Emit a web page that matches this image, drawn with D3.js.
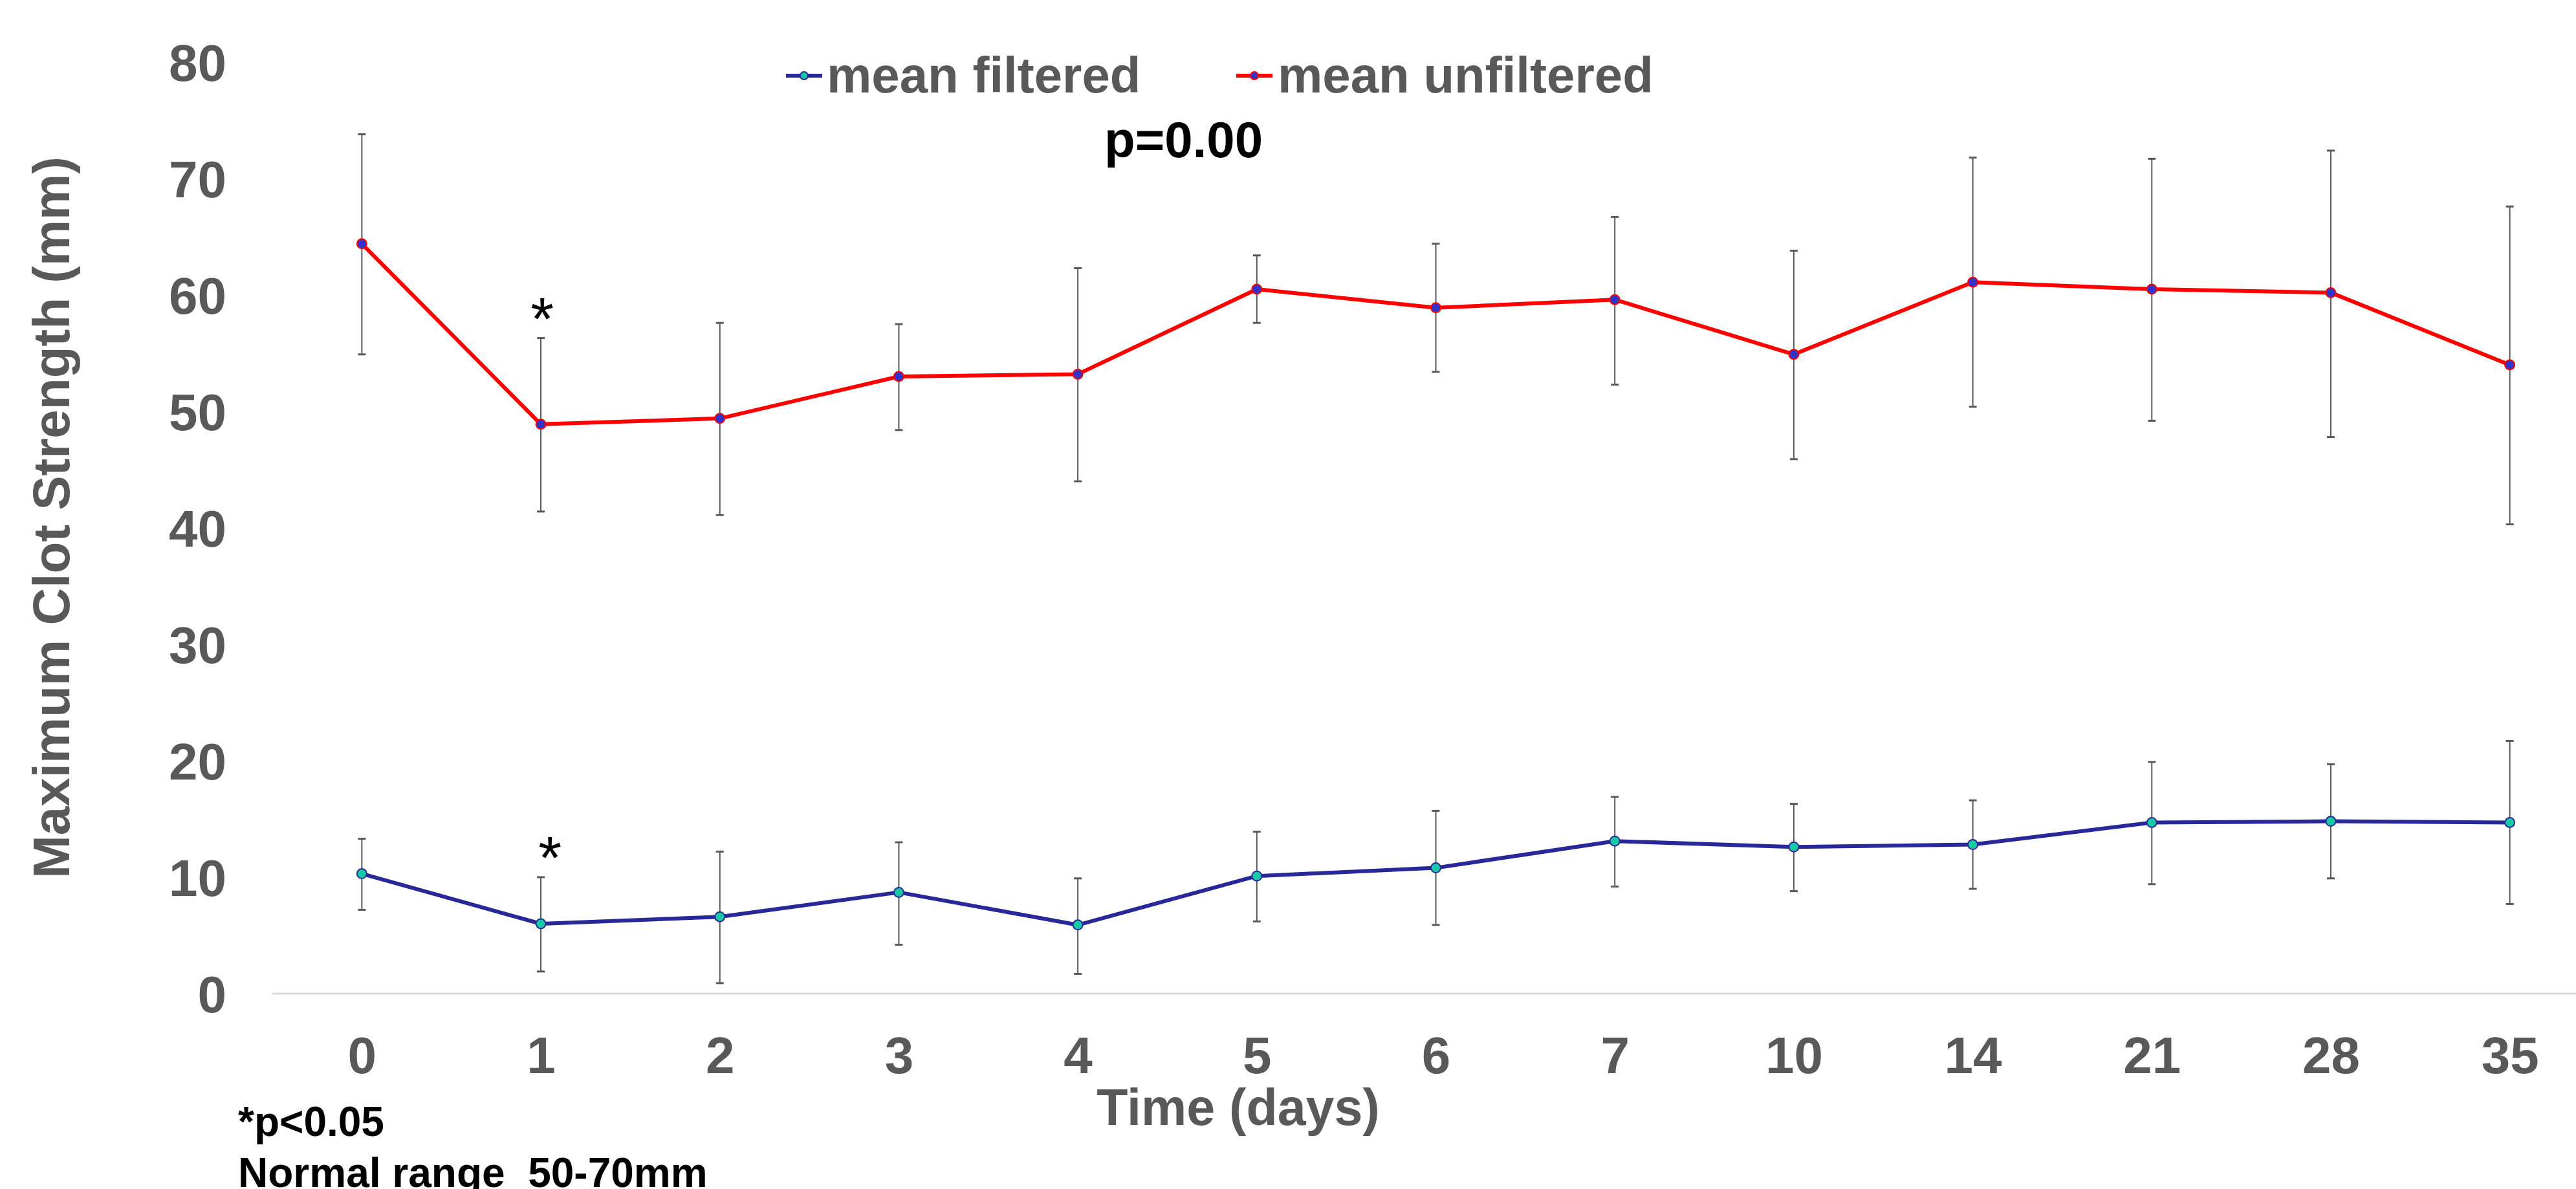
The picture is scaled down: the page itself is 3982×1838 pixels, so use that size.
<!DOCTYPE html>
<html>
<head>
<meta charset="utf-8">
<script src="https://cdn.jsdelivr.net/npm/d3@7/dist/d3.min.js"></script>
<style>
  html, body { margin: 0; padding: 0; background: #ffffff; }
  svg { display: block; }
  text { font-family: "Liberation Sans", Arial, sans-serif; }
</style>
</head>
<body>
<script>
// Time points (days) shown along the x axis
const days = ["0", "1", "2", "3", "4", "5", "6", "7", "10", "14", "21", "28", "35"];

// Mean maximum clot strength (mm) and error bar bounds
const filteredMean  = [10.3, 6.0, 6.6, 8.7, 5.9, 10.1, 10.8, 13.1, 12.6, 12.8, 14.7, 14.8, 14.7];
const filteredHigh  = [13.3, 10.0, 12.2, 13.0, 9.9, 13.9, 15.7, 16.9, 16.3, 16.6, 19.9, 19.7, 21.7];
const filteredLow   = [7.2, 1.9, 0.9, 4.2, 1.7, 6.2, 5.9, 9.2, 8.8, 9.0, 9.4, 9.9, 7.7];

const unfilteredMean = [64.4, 48.9, 49.4, 53.0, 53.2, 60.5, 58.9, 59.6, 54.9, 61.1, 60.5, 60.2, 54.0];
const unfilteredHigh = [73.8, 56.3, 57.6, 57.5, 62.3, 63.4, 64.4, 66.7, 63.8, 71.8, 71.7, 72.4, 67.6];
const unfilteredLow  = [54.9, 41.4, 41.1, 48.4, 44.0, 57.6, 53.4, 52.3, 45.9, 50.4, 49.2, 47.8, 40.3];

const yTicks = [0, 10, 20, 30, 40, 50, 60, 70, 80];

const W = 3982, H = 1838;
const grey = "#595959";

const svg = d3.select("body").append("svg")
  .attr("width", W).attr("height", H)
  .attr("viewBox", `0 0 ${W} ${H}`);

svg.append("rect").attr("width", W).attr("height", H).attr("fill", "#ffffff");

const x = d3.scalePoint().domain(days).range([421, 4018]).padding(0.5);
const y = d3.scaleLinear().domain([0, 80]).range([1536, 96]);

// Horizontal baseline at zero
svg.append("line")
  .attr("x1", 421).attr("x2", 4018)
  .attr("y1", y(0)).attr("y2", y(0))
  .attr("stroke", "#d9d9d9").attr("stroke-width", 3);

// Y axis labels
const yAxis = d3.axisLeft(y).tickValues(yTicks).tickSize(0).tickPadding(0);
const yg = svg.append("g").attr("transform", "translate(350,0)").call(yAxis);
yg.select(".domain").remove();
yg.selectAll("text")
  .attr("font-family", "Liberation Sans, Arial, sans-serif")
  .attr("font-size", 80).attr("font-weight", "bold")
  .attr("fill", grey).attr("dy", "0.36em");

// X axis labels
const xAxis = d3.axisBottom(x).tickSize(0).tickPadding(0);
const xg = svg.append("g").attr("transform", "translate(0,1659)").call(xAxis);
xg.select(".domain").remove();
xg.selectAll("text")
  .attr("font-family", "Liberation Sans, Arial, sans-serif")
  .attr("font-size", 80).attr("font-weight", "bold")
  .attr("fill", grey).attr("y", 0).attr("dy", 0);

// Axis titles
svg.append("text")
  .attr("transform", "translate(107,800) rotate(-90)")
  .attr("text-anchor", "middle")
  .attr("font-size", 80).attr("font-weight", "bold").attr("fill", grey)
  .text("Maximum Clot Strength (mm)");

svg.append("text")
  .attr("x", 1914).attr("y", 1739)
  .attr("text-anchor", "middle")
  .attr("font-size", 79).attr("font-weight", "bold").attr("fill", grey)
  .text("Time (days)");

// Series definitions
const series = [
  { name: "mean filtered", mean: filteredMean, high: filteredHigh, low: filteredLow,
    line: "#282899", fill: "#19c9a6", stroke: "#282899" },
  { name: "mean unfiltered", mean: unfilteredMean, high: unfilteredHigh, low: unfilteredLow,
    line: "#ff0000", fill: "#3333cc", stroke: "#ff0000" }
];

const lineGen = d3.line().x((d, i) => x(days[i])).y(d => y(d));

series.forEach(s => {
  svg.append("path")
    .datum(s.mean)
    .attr("d", lineGen)
    .attr("fill", "none")
    .attr("stroke", s.line).attr("stroke-width", 6)
    .attr("stroke-linejoin", "round");
});

// Error bars
series.forEach(s => {
  const g = svg.append("g");
  days.forEach((d, i) => {
    const cx = x(d);
    g.append("line")
      .attr("x1", cx).attr("x2", cx)
      .attr("y1", y(s.high[i])).attr("y2", y(s.low[i]))
      .attr("stroke", grey).attr("stroke-width", 2);
    [s.high[i], s.low[i]].forEach(v => {
      g.append("line")
        .attr("x1", cx - 6).attr("x2", cx + 6)
        .attr("y1", y(v)).attr("y2", y(v))
        .attr("stroke", grey).attr("stroke-width", 3);
    });
  });
});

// Markers
series.forEach(s => {
  svg.append("g").selectAll("circle")
    .data(s.mean).join("circle")
    .attr("cx", (d, i) => x(days[i]))
    .attr("cy", d => y(d))
    .attr("r", 7.5)
    .attr("fill", s.fill)
    .attr("stroke", s.stroke).attr("stroke-width", 2);
});

// Significance markers at day 1
[unfilteredHigh, filteredHigh].forEach((arr, k) => {
  svg.append("text")
    .attr("x", x("1") + (k === 0 ? 2 : 14))
    .attr("y", y(arr[1]) - 30)
    .attr("text-anchor", "middle")
    .attr("dominant-baseline", "central")
    .attr("font-family", "Liberation Serif, serif")
    .attr("font-size", 92).attr("fill", "#000000")
    .text("*");
});

// Legend
const legendItems = [
  { s: series[0], x0: 1215, tx: 1278 },
  { s: series[1], x0: 1911, tx: 1975 }
];
legendItems.forEach(it => {
  svg.append("line")
    .attr("x1", it.x0).attr("x2", it.x0 + 56)
    .attr("y1", 117).attr("y2", 117)
    .attr("stroke", it.s.line).attr("stroke-width", 6);
  svg.append("circle")
    .attr("cx", it.x0 + 28).attr("cy", 117).attr("r", 6)
    .attr("fill", it.s.fill).attr("stroke", it.s.stroke).attr("stroke-width", 2);
  svg.append("text")
    .attr("x", it.tx).attr("y", 143)
    .attr("font-size", 78).attr("font-weight", "bold").attr("fill", grey)
    .text(it.s.name);
});

// Annotations
svg.append("text")
  .attr("x", 1707).attr("y", 243)
  .attr("font-size", 78).attr("font-weight", "bold").attr("fill", "#000000")
  .text("p=0.00");

svg.append("text")
  .attr("x", 368).attr("y", 1756)
  .attr("font-size", 64).attr("font-weight", "bold").attr("fill", "#000000")
  .text("*p<0.05");

svg.append("text")
  .attr("x", 368).attr("y", 1835)
  .attr("font-size", 64).attr("font-weight", "bold").attr("fill", "#000000")
  .attr("xml:space", "preserve")
  .style("white-space", "pre")
  .text("Normal range  50-70mm");
</script>
</body>
</html>
